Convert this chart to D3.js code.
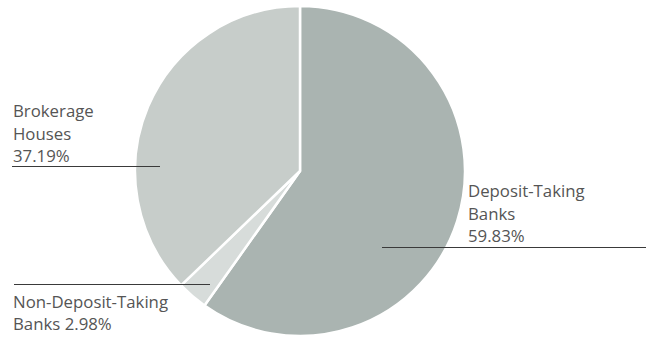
<!DOCTYPE html>
<html>
<head>
<meta charset="utf-8">
<script src="https://cdn.jsdelivr.net/npm/d3@7"></script>
<style>
  html, body { margin: 0; padding: 0; background: #fff; }
  svg { display: block; }
  text { font-family: "Open Sans", "Liberation Sans", sans-serif; font-size: 16.8px; fill: #555555; }
</style>
</head>
<body>
<svg id="chart" width="656" height="338"></svg>
<script>
// Market share by institution type
const categories = ["Deposit-Taking Banks", "Non-Deposit-Taking Banks", "Brokerage Houses"];
const shares = [59.83, 2.98, 37.19];
const sliceColors = ["#aab4b1", "#d7dcda", "#c7cdca"];

// Label text lines (value appended from shares)
const labelLines = [
  ["Deposit-Taking", "Banks", "{v}%"],
  ["Non-Deposit-Taking", "Banks {v}%"],
  ["Brokerage", "Houses", "{v}%"]
];

// Annotation layout: text origin, line spacing and leader rule
const labelLayout = [
  { x: 468, y: 197, dy: 22.5, rule: [382, 646, 247.5] },
  { x: 13,  y: 308, dy: 22,   rule: [14, 210, 284.5] },
  { x: 13,  y: 117, dy: 22.5, rule: [12, 160, 166.5] }
];

const svg = d3.select("#chart");
const cx = 300, cy = 171, radius = 165;

const pie = d3.pie().sort(null).value(d => d)(shares);
const arc = d3.arc().innerRadius(0).outerRadius(radius);

const g = svg.append("g").attr("transform", `translate(${cx},${cy})`);
g.selectAll("path")
  .data(pie)
  .join("path")
  .attr("d", arc)
  .attr("fill", (d, i) => sliceColors[i])
  .attr("stroke", "#ffffff")
  .attr("stroke-width", 2.5)
  .attr("stroke-linejoin", "round");

// Leader rules
svg.selectAll("line.rule")
  .data(labelLayout)
  .join("line")
  .attr("class", "rule")
  .attr("x1", d => d.rule[0])
  .attr("x2", d => d.rule[1])
  .attr("y1", d => d.rule[2])
  .attr("y2", d => d.rule[2])
  .attr("stroke", "#3a3a3a")
  .attr("stroke-width", 1);

// Labels
labelLayout.forEach((L, i) => {
  const t = svg.append("text").attr("x", L.x).attr("y", L.y);
  labelLines[i].forEach((line, j) => {
    t.append("tspan")
      .attr("x", L.x)
      .attr("y", L.y + j * L.dy)
      .text(line.replace("{v}", shares[i].toFixed(2)));
  });
});
</script>
</body>
</html>
